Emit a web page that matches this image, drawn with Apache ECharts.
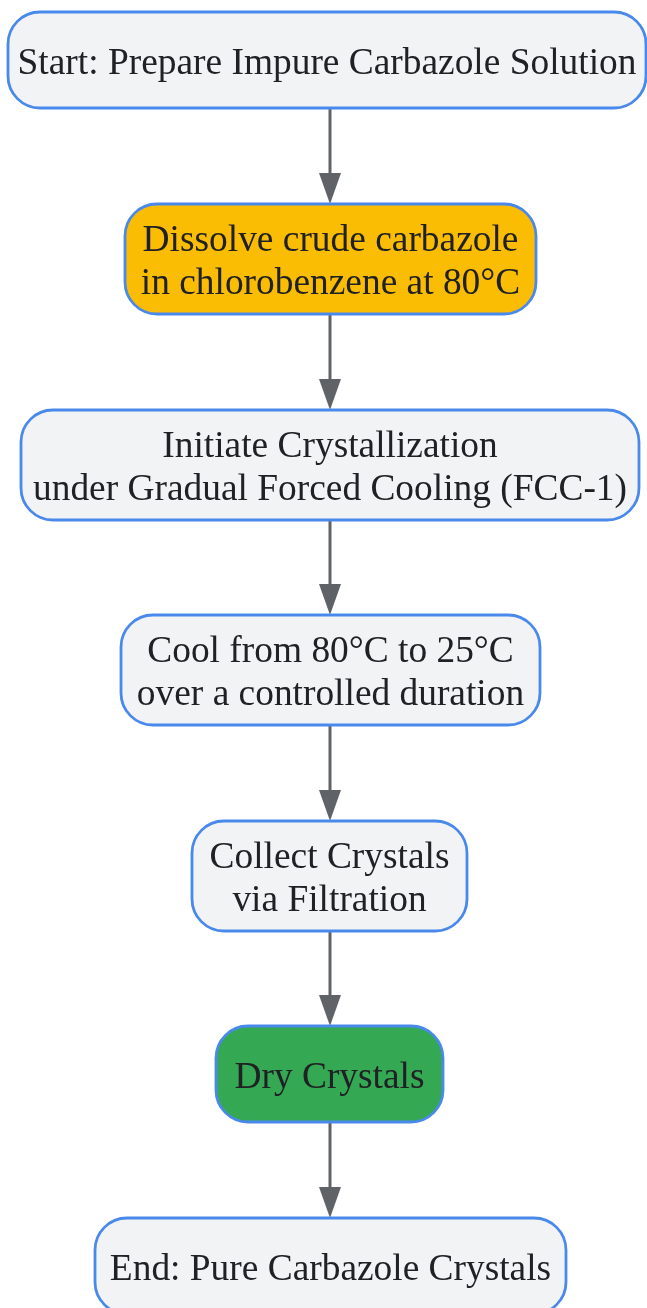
<!DOCTYPE html>
<html>
<head>
<meta charset="utf-8">
<script src="https://cdn.jsdelivr.net/npm/echarts@6/dist/echarts.min.js"></script>
<style>html,body{margin:0;padding:0;background:#fff}#c{width:647px;height:1308px}</style>
</head>
<body>
<div id="c"></div>
<script>
// ---- data ----
const steps = [
  "Start: Prepare Impure Carbazole Solution",
  "Dissolve crude carbazole\nin chlorobenzene at 80°C",
  "Initiate Crystallization\nunder Gradual Forced Cooling (FCC-1)",
  "Cool from 80°C to 25°C\nover a controlled duration",
  "Collect Crystals\nvia Filtration",
  "Dry Crystals",
  "End: Pure Carbazole Crystals"
];
const stepKinds = ["terminal", "highlight", "process", "process", "process", "done", "terminal"];
const links = [[0,1],[1,2],[2,3],[3,4],[4,5],[5,6]];

// ---- layout & style (not data) ----
const boxes = [
  [8, 12, 638, 96],
  [125, 204, 411, 110],
  [21, 410, 618, 110],
  [121, 615, 419, 110],
  [192, 821, 275, 110],
  [216, 1026, 227, 96],
  [95, 1218, 471, 96]
];
const fills = { terminal: "#f1f3f4", process: "#f1f3f4", highlight: "#fbbc04", done: "#34a853" };
const arrowX = 330;

const elements = [];
links.forEach(([a, b]) => {
  const y1 = boxes[a][1] + boxes[a][3];
  const y2 = boxes[b][1];
  elements.push({
    type: 'line', shape: { x1: arrowX, y1: y1, x2: arrowX, y2: y2 - 28 },
    style: { stroke: '#5f6368', lineWidth: 3 }, z: 1
  });
  elements.push({
    type: 'polygon', shape: { points: [[arrowX - 11, y2 - 31], [arrowX + 11, y2 - 31], [arrowX, y2]] },
    style: { fill: '#5f6368' }, z: 1
  });
});
steps.forEach((label, i) => {
  const [x, y, w, h] = boxes[i];
  elements.push({
    type: 'rect', shape: { x: x, y: y, width: w, height: h, r: 32 },
    style: { fill: fills[stepKinds[i]], stroke: '#4a89ec', lineWidth: 2.8 }, z: 2
  });
  elements.push({
    type: 'text', x: x + w / 2, y: y + h / 2 + 4,
    style: {
      text: label, fill: '#202124', font: "37.4px 'Liberation Serif'",
      align: 'center', verticalAlign: 'middle', lineHeight: 43
    }, z: 3
  });
});

const chart = echarts.init(document.getElementById('c'), null, { renderer: 'canvas' });
chart.setOption({ animation: false, graphic: { elements: elements } });
</script>
</body>
</html>
